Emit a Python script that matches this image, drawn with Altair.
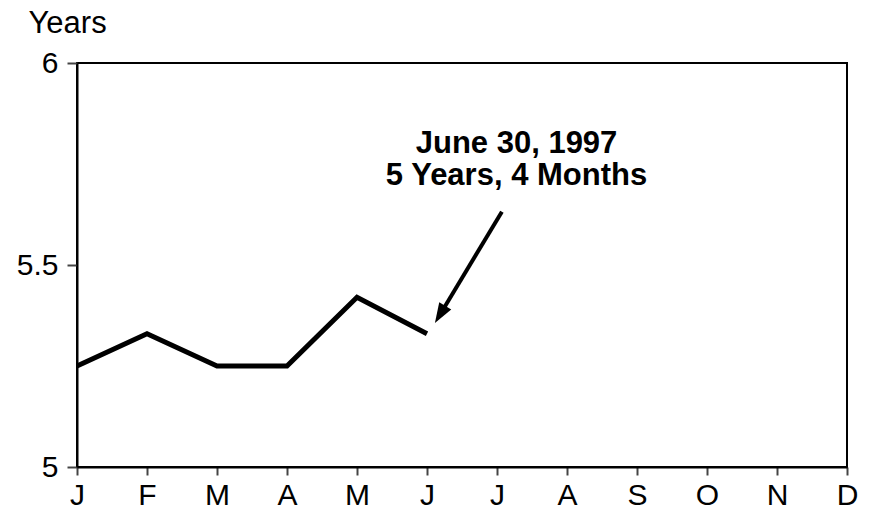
import altair as alt
import pandas as pd

month_labels = ["J", "F", "M", "A", "M", "J", "J", "A", "S", "O", "N", "D"]
month_idx = [0, 1, 2, 3, 4, 5]
years = [5.25, 5.33, 5.25, 5.25, 5.42, 5.33]
y_ticks = [5, 5.5, 6]

note_lines = ["June 30, 1997", "5 Years, 4 Months"]
note_x = [6.279]
note_y = [5.777]

arrow_start = (6.07, 5.632)
arrow_head = (5.187, 5.3777)

FONT = "Liberation Sans"

df = pd.DataFrame({"m": month_idx, "v": years})
notes = pd.DataFrame({"t": ["\n".join(note_lines)], "x": note_x, "y": note_y})
arrow = pd.DataFrame({"x": [arrow_start[0]], "y": [arrow_start[1]],
                      "x2": [arrow_head[0]], "y2": [arrow_head[1]]})
head = pd.DataFrame({"x": [arrow_head[0]], "y": [arrow_head[1]]})

label_expr = "[" + ",".join("'%s'" % s for s in month_labels) + "][datum.value]"

xscale = alt.Scale(domain=[0, 11], nice=False, zero=False)
yscale = alt.Scale(domain=[5, 6], nice=False, zero=False)

xaxis = alt.Axis(values=list(range(12)), labelExpr=label_expr, grid=False,
                 labelFont=FONT, labelFontSize=30, labelColor="black",
                 tickSize=8, tickWidth=2, tickColor="#444",
                 domainColor="black", domainWidth=2, labelPadding=5,
                 title=None, labelFlush=False)
yaxis = alt.Axis(values=y_ticks, labelExpr="'' + datum.value", grid=False,
                 labelFont=FONT, labelFontSize=30, labelColor="black",
                 tickSize=10, tickWidth=2, tickColor="#444",
                 domainColor="black", domainWidth=2, labelPadding=9,
                 title="Years", titleAngle=0, titleAlign="left",
                 titleBaseline="alphabetic", titleX=-49, titleY=-31,
                 titleFont=FONT, titleFontSize=31, titleFontWeight="normal",
                 titleColor="black", labelFlush=False)

line = alt.Chart(df).mark_line(color="black", strokeWidth=5).encode(
    x=alt.X("m:Q", scale=xscale, axis=xaxis),
    y=alt.Y("v:Q", scale=yscale, axis=yaxis),
)

text = alt.Chart(notes).mark_text(font=FONT, fontSize=31, fontWeight="bold",
                                  align="center", baseline="alphabetic",
                                  lineBreak="\n", lineHeight=32,
                                  color="black").encode(
    x=alt.X("x:Q", scale=xscale), y=alt.Y("y:Q", scale=yscale), text="t:N")

rule = alt.Chart(arrow).mark_rule(color="black", strokeWidth=4).encode(
    x=alt.X("x:Q", scale=xscale), y=alt.Y("y:Q", scale=yscale),
    x2="x2:Q", y2="y2:Q")

arrowhead = alt.Chart(head).mark_point(
    shape="M0,-1L0.7,1L-0.7,1Z", filled=True, color="black",
    size=400, angle=211, opacity=1).encode(
    x=alt.X("x:Q", scale=xscale), y=alt.Y("y:Q", scale=yscale))

chart = alt.layer(line, rule, arrowhead, text).properties(
    width=770, height=404,
    autosize=alt.AutoSizeParams(type="none"),
    padding={"left": 69, "top": 55, "right": 14, "bottom": 41},
    background="white",
).configure_view(stroke="black", strokeWidth=2)

chart.save("out.html", embed_options={"renderer": "svg", "actions": False})
